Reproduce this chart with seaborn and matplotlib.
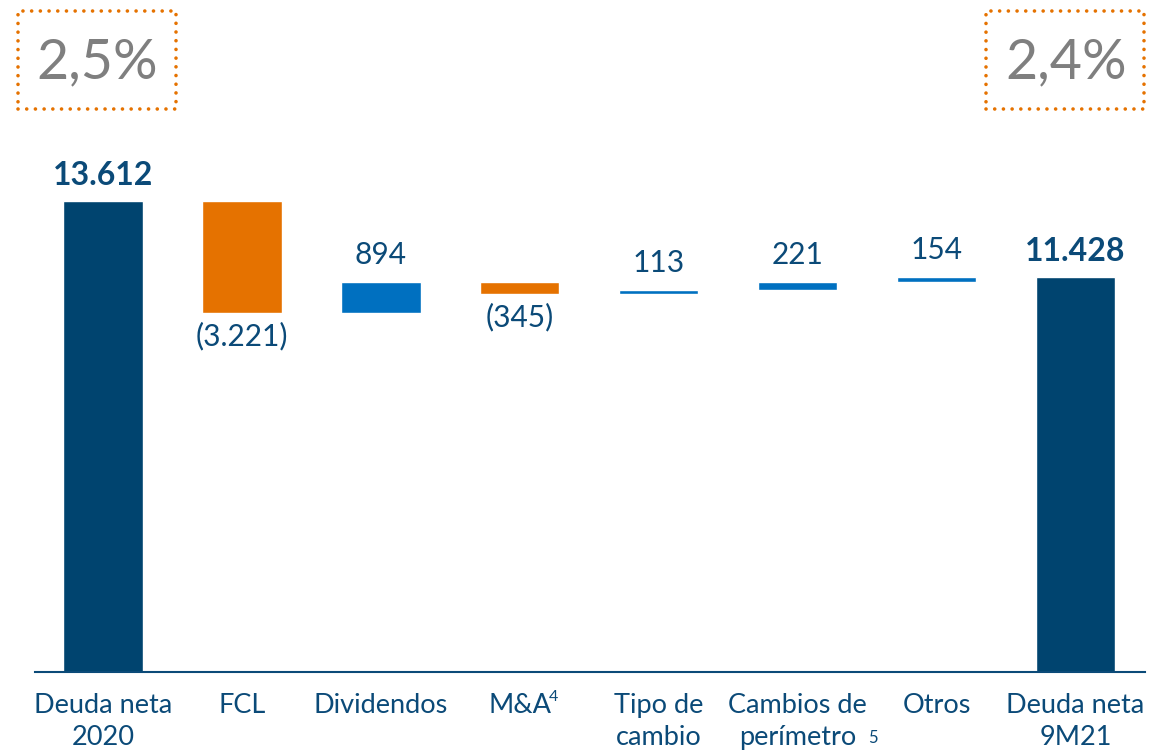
import matplotlib
matplotlib.use("Agg")
import matplotlib.pyplot as plt
from matplotlib.patches import Rectangle
from matplotlib.transforms import blended_transform_factory
import numpy as np
import pandas as pd
import seaborn as sns

# data (millones EUR)
categories = ["Deuda neta\n2020", "FCL", "Dividendos", "M&A", "Tipo de\ncambio",
              "Cambios de\nperímetro", "Otros", "Deuda neta\n9M21"]
footnotes = {3: "4", 5: "5"}
start_total = 13612
deltas = [-3221, 894, -345, 113, 221, 154]
end_total = 11428
value_labels = ["13.612", "(3.221)", "894", "(345)", "113", "221", "154", "11.428"]
ratio_labels = ["2,5%", "2,4%"]

NAVY = "#00446f"
BLUE = "#0070c0"
ORANGE = "#e57200"
TEXT = "#0b4a78"
GRAY = "#7f7f7f"
FONT = "Lato"

sns.set_theme(style="white")
plt.rcParams["font.family"] = [FONT, "DejaVu Sans"]

# waterfall geometry from the values
levels = np.concatenate([[start_total], start_total + np.cumsum(deltas)])
lo = [0] + [min(a, b) for a, b in zip(levels[:-1], levels[1:])] + [0]
hi = [start_total] + [max(a, b) for a, b in zip(levels[:-1], levels[1:])] + [end_total]
kind = ["total"] + ["down" if d < 0 else "up" for d in deltas] + ["total"]
df = pd.DataFrame({"cat": categories, "hi": hi, "lo": lo, "kind": kind})
palette = {"total": NAVY, "up": BLUE, "down": ORANGE}

fig = plt.figure(figsize=(11.66, 7.52), dpi=100)
ax = fig.add_axes([0.030, 0.1064, 0.952, 0.694])

sns.barplot(data=df, x="cat", y="hi", hue="kind", palette=palette, width=0.57,
            legend=False, saturation=1, ax=ax, dodge=False)
sns.barplot(data=df, x="cat", y="lo", color="white", width=0.59, saturation=1, ax=ax)

ax.set_xlim(-0.49, 7.5)
ax.set_ylim(0, 15086)
ax.set_xlabel("")
ax.set_ylabel("")
ax.set_yticks([])
for side in ["top", "right", "left"]:
    ax.spines[side].set_visible(False)
ax.spines["bottom"].set_color(TEXT)
ax.spines["bottom"].set_linewidth(1.5)
ax.tick_params(axis="x", length=0, pad=15)
ax.set_xticks(range(len(categories)))
ax.set_xticklabels(categories, fontsize=19.5, color=TEXT, linespacing=1.35, va="top")

# footnote markers next to the category names
trans = blended_transform_factory(ax.transData, ax.transAxes)
ax.annotate(footnotes[3], (3, 0), xycoords=trans, xytext=(34, -25), textcoords="offset pixels",
            ha="center", va="center", fontsize=11.5, color=TEXT, annotation_clip=False)
ax.annotate(footnotes[5], (5, 0), xycoords=trans, xytext=(75, -66), textcoords="offset pixels",
            ha="center", va="center", fontsize=12, color=TEXT, annotation_clip=False)

for i, (lab, k) in enumerate(zip(value_labels, kind)):
    if k == "total":
        ax.annotate(lab, (i, hi[i]), xytext=(0, 8), textcoords="offset points",
                    ha="center", va="bottom", fontsize=23, fontweight="bold", color=TEXT)
    elif k == "up":
        ax.annotate(lab, (i, hi[i]), xytext=(0, 9), textcoords="offset points",
                    ha="center", va="bottom", fontsize=21.5, color=TEXT)
    else:
        ax.annotate(lab, (i, lo[i]), xytext=(0, -7), textcoords="offset points",
                    ha="center", va="top", fontsize=21.5, color=TEXT)

# dotted boxes with leverage ratios
for x0, xc, lab in [(0.0154, 0.0832, ratio_labels[0]), (0.8456, 0.914, ratio_labels[1])]:
    box = Rectangle((x0, 0.855), 0.1355, 0.1303, transform=fig.transFigure,
                    fill=False, edgecolor=ORANGE, linewidth=2.6,
                    linestyle=(0, (0.01, 2.4)), capstyle="round")
    fig.add_artist(box)
    fig.text(xc, 0.916, lab, ha="center", va="center", fontsize=40, color=GRAY)

fig.savefig("out.png", dpi=100)
